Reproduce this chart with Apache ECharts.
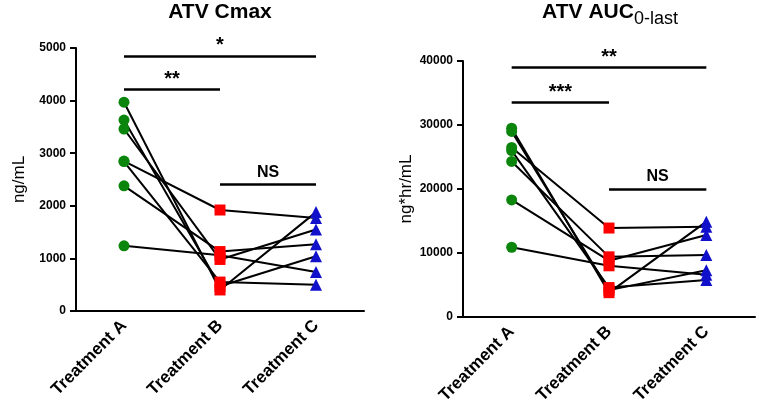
<!DOCTYPE html>
<html>
<head>
<meta charset="utf-8">
<script src="https://cdn.jsdelivr.net/npm/echarts@6/dist/echarts.min.js"></script>
<style>
html,body{margin:0;padding:0;background:#fff;}
#c{width:761px;height:416px;}
</style>
</head>
<body>
<div id="c"></div>
<script>
// ---- data ----
const categories = ['Treatment A', 'Treatment B', 'Treatment C'];
// ATV Cmax (ng/mL), one entry per subject
const cmaxA = [3970, 3630, 2840, 2850, 3460, 2380, 1240];
const cmaxB = [400, 470, 550, 1920, 980, 1130, 1060];
const cmaxC = [1880, 1040, 500, 1770, 1550, 1270, 740];
// ATV AUC0-last (ng*hr/mL)
const aucA = [29500, 29000, 26500, 26000, 24300, 18300, 10900];
const aucB = [3800, 4200, 13900, 4600, 9400, 8800, 8000];
const aucC = [14900, 7300, 14100, 5800, 9700, 12800, 6600];
// significance brackets: [fromIndex, toIndex, yValue, label]
const cmaxSig = [[0, 2, 4850, '*'], [0, 1, 4220, '**'], [1, 2, 2410, 'NS']];
const aucSig = [[0, 2, 39000, '**'], [0, 1, 33500, '***'], [1, 2, 20000, 'NS']];
const cmaxTicks = { min: 0, max: 5000, interval: 1000 };
const aucTicks = { min: 0, max: 40000, interval: 10000 };

const FONT = '"Liberation Sans", Arial, sans-serif';
const GREEN = '#0c850c', RED = '#ff0000', BLUE = '#1111cc';

const chart = echarts.init(document.getElementById('c'), null, { renderer: 'canvas' });

function buildPanel(idx, A, B, C, sig, ticks, yName, nameGap) {
  const series = [];
  for (let i = 0; i < A.length; i++) {
    series.push({
      type: 'line', xAxisIndex: idx, yAxisIndex: idx,
      data: [[categories[0], A[i]], [categories[1], B[i]], [categories[2], C[i]]],
      symbol: 'none', lineStyle: { color: '#000', width: 2 }, z: 2, silent: true
    });
  }
  const groups = [[A, 'circle', GREEN, 11], [B, 'rect', RED, 11], [C, 'triangle', BLUE, 12]];
  groups.forEach((g, k) => {
    series.push({
      type: 'scatter', xAxisIndex: idx, yAxisIndex: idx,
      data: g[0].map(v => [categories[k], v]),
      symbol: g[1], symbolSize: g[3], itemStyle: { color: g[2], opacity: 1 }, z: 5
    });
  });
  series.push({
    type: 'line', xAxisIndex: idx, yAxisIndex: idx, data: [], symbol: 'none', z: 4,
    markLine: {
      silent: true, symbol: ['none', 'none'], animation: false,
      lineStyle: { color: '#000', width: 2.5, type: 'solid' },
      label: { show: true, position: 'middle', color: '#000', fontFamily: FONT, fontWeight: 'bold', fontSize: 18, distance: 2 },
      data: sig.map(s => [
        { coord: [categories[s[0]], s[2]], label: { formatter: s[3], fontSize: s[3] === 'NS' ? 16 : 20, distance: s[3] === 'NS' ? 4 : 0 } },
        { coord: [categories[s[1]], s[2]] }
      ])
    }
  });
  const xAxis = {
    type: 'category', gridIndex: idx, data: categories, boundaryGap: true,
    axisLine: { lineStyle: { color: '#000', width: 2 } },
    axisTick: { alignWithLabel: true, length: 6, lineStyle: { color: '#000', width: 2 } },
    axisLabel: { rotate: 45, margin: 12, color: '#000', fontFamily: FONT, fontWeight: 'bold', fontSize: 17, interval: 0 },
    splitLine: { show: false }
  };
  const yAxis = {
    type: 'value', gridIndex: idx, min: ticks.min, max: ticks.max, interval: ticks.interval,
    name: yName, nameLocation: 'middle', nameGap: nameGap,
    nameTextStyle: { color: '#000', fontFamily: FONT, fontSize: 17 },
    axisLine: { show: true, lineStyle: { color: '#000', width: 2 } },
    axisTick: { show: true, length: 6, lineStyle: { color: '#000', width: 2 } },
    axisLabel: { color: '#000', fontFamily: FONT, fontWeight: 'bold', fontSize: 12, margin: 10, formatter: v => String(v) },
    splitLine: { show: false }
  };
  return { series, xAxis, yAxis };
}

const p1 = buildPanel(0, cmaxA, cmaxB, cmaxC, cmaxSig, cmaxTicks, 'ng/mL', 48);
const p2 = buildPanel(1, aucA, aucB, aucC, aucSig, aucTicks, 'ng*hr/mL', 48);

chart.setOption({
  animation: false,
  backgroundColor: '#fff',
  grid: [
    { left: 76, top: 48, width: 288, height: 263 },
    { left: 463, top: 61, width: 292, height: 256 }
  ],
  xAxis: [p1.xAxis, p2.xAxis],
  yAxis: [p1.yAxis, p2.yAxis],
  series: p1.series.concat(p2.series),
  graphic: [
    { type: 'text', x: 220, y: 2, style: { text: 'ATV Cmax', align: 'center', fill: '#000', font: 'bold 21px ' + FONT } },
    { type: 'text', x: 610, y: 2, style: {
        text: '{m|ATV AUC}{s|0-last}', align: 'center', fill: '#000',
        rich: {
          m: { fontFamily: FONT, fontWeight: 'bold', fontSize: 21, fill: '#000', verticalAlign: 'top', lineHeight: 24 },
          s: { fontFamily: FONT, fontSize: 18, fill: '#000', verticalAlign: 'top', padding: [8, 0, 0, 0], lineHeight: 24 }
        }
    } }
  ]
});
</script>
</body>
</html>
